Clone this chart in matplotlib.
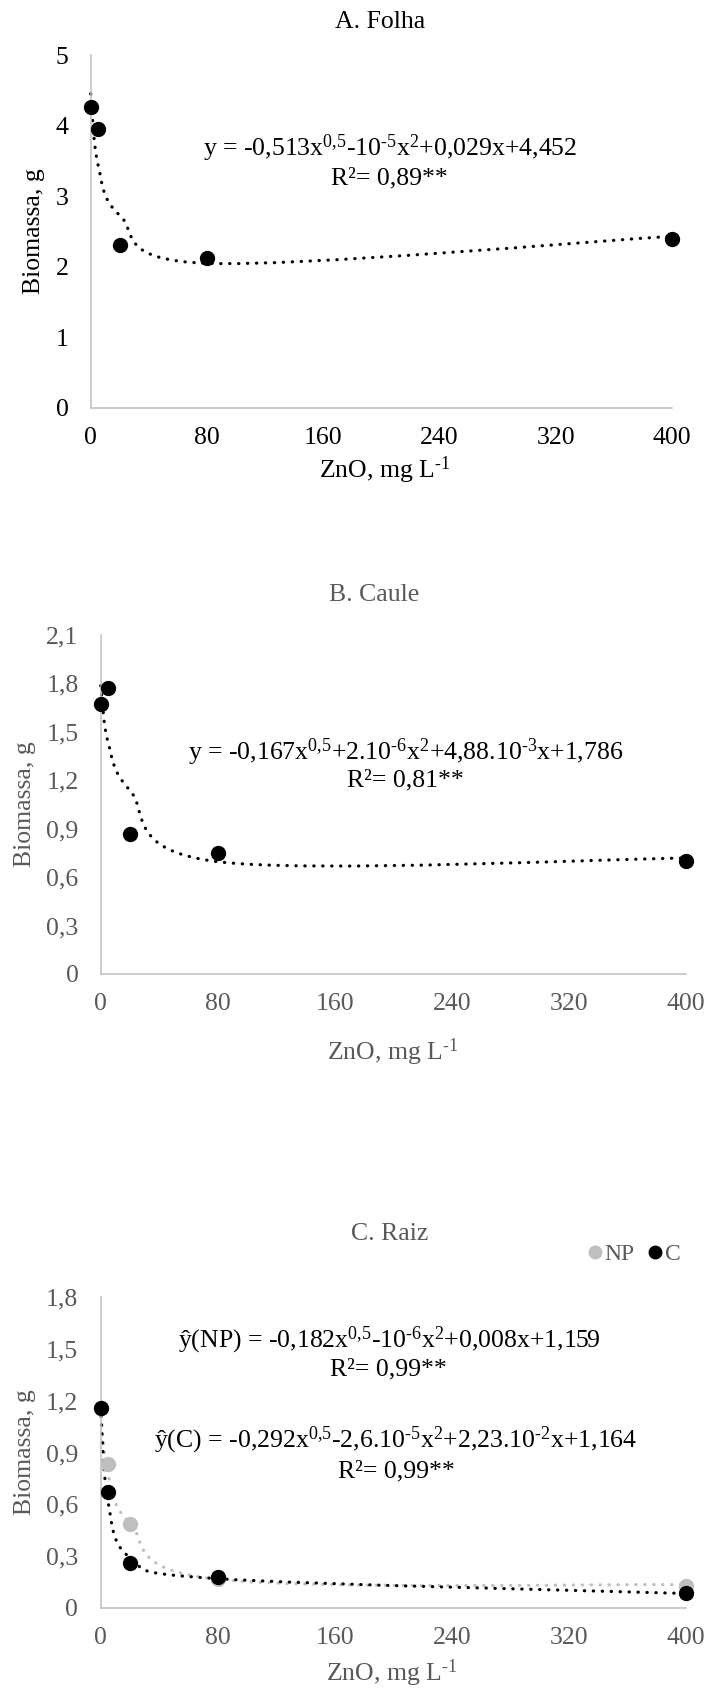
import numpy as np
import matplotlib.pyplot as plt
from matplotlib.lines import Line2D
from matplotlib.path import Path
from matplotlib.patches import PathPatch

plt.rcParams['font.family'] = ['Liberation Serif', 'DejaVu Serif']
plt.rcParams['mathtext.fontset'] = 'custom'
plt.rcParams['mathtext.rm'] = 'Liberation Serif'
plt.rcParams['mathtext.it'] = 'Liberation Serif:italic'
plt.rcParams['mathtext.default'] = 'regular'

W, H = 709, 1693

# ZnO doses (mg/L) and biomass (g)
dose = [0, 5, 20, 80, 400]
folha = [4.26, 3.95, 2.31, 2.13, 2.39]
caule = [1.67, 1.77, 0.87, 0.75, 0.70]
raiz_np = [1.16, 0.835, 0.485, 0.17, 0.125]
raiz_c = [1.155, 0.67, 0.26, 0.18, 0.085]

# regression coefficients: a*x^0.5 + b*x^2 + c*x + d
coef_folha = [-0.513, -2.1e-5, 0.029, 4.452]
coef_caule = [-0.167, 2e-6, 4.88e-3, 1.786]
coef_np = [-0.19, -5.9e-6, 0.0093, 1.159]
coef_c = [-0.292, -2.6e-5, 2.23e-2, 1.164]

xticks = [0, 80, 160, 240, 320, 400]
yticks_a = [0, 1, 2, 3, 4, 5]
yticks_b = [0, 0.3, 0.6, 0.9, 1.2, 1.5, 1.8, 2.1]
yticks_c = [0, 0.3, 0.6, 0.9, 1.2, 1.5, 1.8]

eq_a = r'y = -0,513x$^{0{,}5}$-10$^{‐5}$x$^{2}$+0,029x+4,452'
eq_b = r'y = -0,167x$^{0{,}5}$+2.10$^{‐6}$x$^{2}$+4,88.10$^{‐3}$x+1,786'
eq_np = r'ŷ(NP) = -0,182x$^{0{,}5}$-10$^{‐6}$x$^{2}$+0,008x+1,159'
eq_c = r'ŷ(C) = -0,292x$^{0{,}5}$-2,6.10$^{‐5}$x$^{2}$+2,23.10$^{‐2}$x+1,164'

GRAY_TXT = '#595959'
SPINE = '#BFBFBF'
LIGHT = '#BFBFBF'
FS = 18.5

fig = plt.figure(figsize=(W / 100, H / 100), dpi=100)


def ftext(x, y, s, **kw):
    kw.setdefault('fontsize', FS)
    fig.text(x / W, 1 - y / H, s, ha='center', va='center', **kw)


def make_axes(left, top, right, bottom):
    ax = fig.add_axes([left / W, 1 - bottom / H, (right - left) / W, (bottom - top) / H])
    for s in ['top', 'right']:
        ax.spines[s].set_visible(False)
    for s in ['left', 'bottom']:
        ax.spines[s].set_color(SPINE)
        ax.spines[s].set_linewidth(1.1)
    return ax


def style(ax, yticks, top, col):
    ax.set_xlim(0, 400)
    ax.set_ylim(0, top)
    ax.set_xticks(xticks)
    ax.set_xticklabels([str(t) for t in xticks])
    ax.set_yticks(yticks)
    ax.set_yticklabels([('%g' % t).replace('.', ',') for t in yticks])
    ax.tick_params(axis='x', length=0, pad=14, labelsize=FS, colors=col)
    ax.tick_params(axis='y', length=0, pad=16, labelsize=FS, colors=col)


def smooth_path(xs, ys):
    # spreadsheet-style smoothed line (Catmull-Rom bezier) through fitted values
    P = np.column_stack([xs, ys])
    n = len(P)
    verts, codes = [P[0]], [Path.MOVETO]
    for i in range(n - 1):
        p0, p1 = P[max(i - 1, 0)], P[i]
        p2, p3 = P[i + 1], P[min(i + 2, n - 1)]
        verts += [p1 + (p2 - p0) / 6, p2 - (p3 - p1) / 6, p2]
        codes += [Path.CURVE4] * 3
    return Path(verts, codes)


def plot_series(ax, y, coef, color):
    a, b, c, d = coef
    x = np.asarray(dose, float)
    fitted = a * np.sqrt(x) + b * x ** 2 + c * x + d
    ax.add_patch(PathPatch(smooth_path(x, fitted), facecolor='none', edgecolor=color,
                           lw=2.3, linestyle=(0, (0.1, 2.7)), capstyle='round',
                           clip_on=False, zorder=2))
    ax.plot(dose, y, 'o', color=color, ms=10, clip_on=False, zorder=3)


# A. Folha
ax = make_axes(90.7, 55, 672, 408)
plot_series(ax, folha, coef_folha, 'black')
style(ax, yticks_a, 5, 'black')
ftext(380, 22, 'A. Folha')
ftext(390, 148, eq_a)
ftext(389, 178, 'R²= 0,89**')
ftext(385, 470, r'ZnO, mg L$^{‐1}$')
ftext(34, 231, 'Biomassa, g', rotation=90)

# B. Caule
ax = make_axes(100.7, 635, 686, 974)
plot_series(ax, caule, coef_caule, 'black')
style(ax, yticks_b, 2.1, GRAY_TXT)
ftext(374, 595, 'B. Caule', color=GRAY_TXT)
ftext(406, 752, eq_b)
ftext(405, 780, 'R²= 0,81**')
ftext(393, 1052, r'ZnO, mg L$^{‐1}$', color=GRAY_TXT)
ftext(25, 804, 'Biomassa, g', rotation=90, color=GRAY_TXT)

# C. Raiz
ax = make_axes(100.5, 1297, 686, 1608)
plot_series(ax, raiz_np, coef_np, LIGHT)
plot_series(ax, raiz_c, coef_c, 'black')
style(ax, yticks_c, 1.8, GRAY_TXT)
ftext(390, 1234, 'C. Raiz', color=GRAY_TXT)
ftext(389, 1340, eq_np)
ftext(388, 1369, 'R²= 0,99**')
ftext(396, 1440, eq_c)
ftext(396, 1471, 'R²= 0,99**')
ftext(392, 1673, r'ZnO, mg L$^{‐1}$', color=GRAY_TXT)
ftext(25, 1452, 'Biomassa, g', rotation=90, color=GRAY_TXT)

handles = [Line2D([], [], marker='o', ls='none', color=LIGHT, ms=9),
           Line2D([], [], marker='o', ls='none', color='black', ms=9)]
fig.legend(handles, ['NP', 'C'], loc='center', bbox_to_anchor=(634 / W, 1 - 1254 / H),
           ncol=2, frameon=False, handlelength=0.6, handletextpad=0.1,
           columnspacing=0.6, fontsize=17, labelcolor=GRAY_TXT, borderpad=0)

fig.savefig('out.png', dpi=100)
